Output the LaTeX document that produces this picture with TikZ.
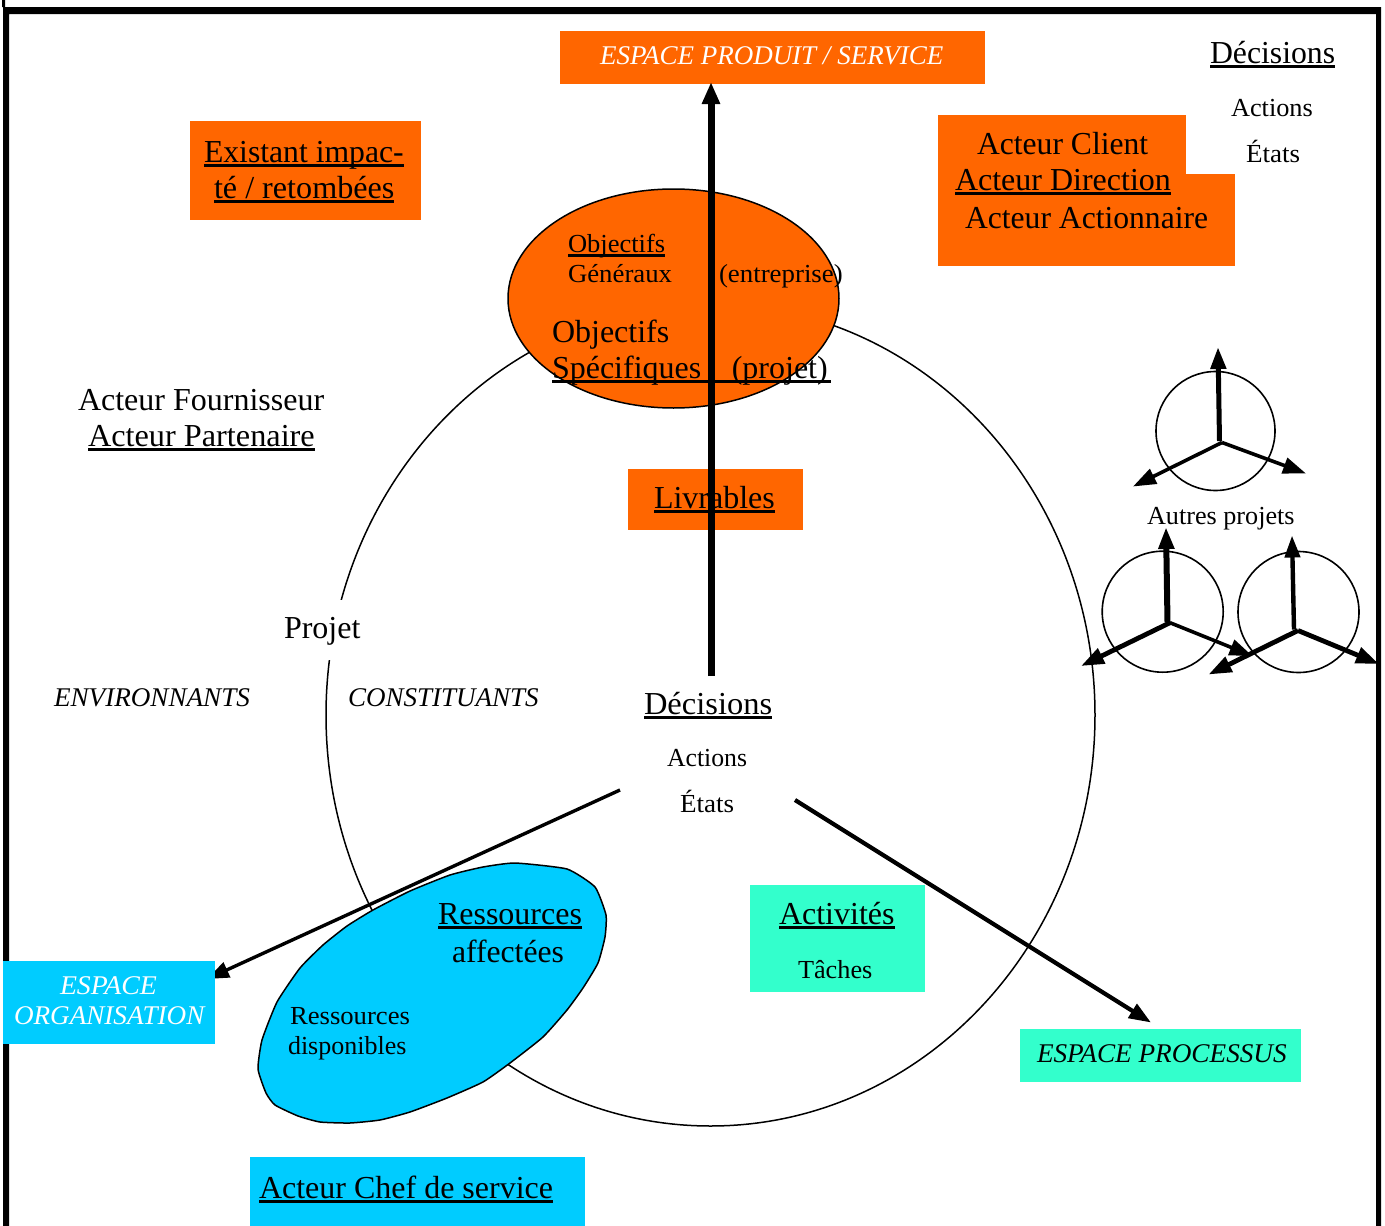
\documentclass[tikz,border=0pt]{standalone}
\usepackage{fontspec}
\setmainfont{Liberation Serif}
\usetikzlibrary{arrows.meta,calc}
\definecolor{orangeb}{HTML}{FF6600}
\definecolor{blueb}{HTML}{00CCFF}
\definecolor{tealb}{HTML}{33FFCC}
\newsavebox\ulbox
\newcommand\ulx[1]{\sbox\ulbox{#1}\rlap{\rule[-5pt]{\wd\ulbox}{3pt}}\usebox\ulbox}
\newcommand\sx[2]{\scalebox{#1}[1]{#2}}
\newcommand\bigf{\fontsize{32}{34}\selectfont}
\newcommand\smallf{\fontsize{26}{28}\selectfont}
\newcommand\espf{\fontsize{27}{29}\selectfont\itshape}
\tikzset{
 x=1pt,y=-1pt,
 every node/.style={inner sep=0pt,outer sep=0pt},
 tb/.style={anchor=base west,font=\bigf},
 ts/.style={anchor=base west,font=\smallf},
 te/.style={anchor=base west,font=\espf},
 tew/.style={te,text=white},
 fbox/.style={fill=#1,draw=none,anchor=north west},
 bigarrow/.style={line width=7pt,-{Triangle[length=22pt,width=17pt]}},
 medarrow/.style={line width=3.4pt,-{Triangle[length=22pt,width=16pt]}},
 medarrowb/.style={line width=4.2pt,-{Triangle[length=22pt,width=16pt]}},
 wheelv/.style={line width=5pt,-{Triangle[length=22pt,width=15pt]}},
 wheelo/.style={line width=3.6pt,-{Triangle[length=23pt,width=16pt]}},
 wheelt/.style={line width=4.8pt,-{Triangle[length=23pt,width=16pt]}},
 wheel/.style={circle,draw,line width=1.6pt,minimum size=119pt},
 outline/.style={draw=black,line width=1.5pt},
}
\begin{document}
\begin{tikzpicture}
\useasboundingbox (0,0) rectangle (1385,1226);
\fill[white] (0,0) rectangle (1385,1226);
% frame
\fill (3,1226) -- (3,7) -- (2,7) -- (2,0) -- (5,0) -- (5,7) -- (1381,7) -- (1381,1226) -- (1376,1226) -- (1376,14) -- (9,14) -- (9,1226) -- cycle;
% large circle
\draw[line width=1.5pt] (710.5,715) ellipse [x radius=384.5,y radius=411];
% boxes
\node[fbox=orangeb,minimum width=425pt,minimum height=53pt] (prod) at (560,31) {};
\node[fbox=orangeb,minimum width=231pt,minimum height=99pt] (exist) at (190,121) {};
\node[fbox=orangeb,minimum width=248pt,minimum height=70pt] (acta) at (938,115) {};
\node[fbox=orangeb,minimum width=297pt,minimum height=92pt] (actb) at (938,174) {};
\node[fbox=orangeb,minimum width=175pt,minimum height=61pt] (livr) at (628,469) {};
\node[fbox=tealb,minimum width=175pt,minimum height=107pt] (activ) at (750,885) {};
\node[fbox=tealb,minimum width=281pt,minimum height=53pt] (proc) at (1020,1029) {};
\node[fbox=blueb,minimum width=335pt,minimum height=69pt] (chef) at (250,1157) {};
\node[anchor=north west,minimum width=212pt,minimum height=83pt] (orga) at (3,961) {};
% white label holders
\node[fill=white,anchor=north west,minimum width=80pt,minimum height=60pt] (projet) at (282,600) {};
\node[fill=white,anchor=north west,minimum width=175pt,minimum height=150pt] (centre) at (620,676) {};
% ellipses
\draw[outline,fill=orangeb] (673.5,298.5) ellipse [x radius=165.5,y radius=109.5];
\draw[outline,fill=blueb] plot[smooth cycle,tension=0.3] coordinates {(515,863) (567,869) (595,887) (606,915) (605,937) (598,963) (583,988) (567,1010) (543,1037) (510,1063) (483,1082) (447,1098) (410,1112) (380,1120) (350,1123) (320,1122) (298,1116) (275,1105) (266,1093) (258,1069) (262,1040) (277,1002) (300,968) (323,945) (347,926) (373,910) (410,891) (450,875) (483,867)};
% main connectors
\draw[bigarrow] ([xshift=3.5pt]centre.north) -- ($(centre.north |- prod.south)+(3.5,-2)$);
\draw[medarrow] ($(centre.north west)+(0,114)$) -- ($(orga.north east)+(-8,18)$);
\fill[blueb] (orga.north west) rectangle (orga.south east);
\draw[medarrowb] ($(centre.north east)+(0,124)$) -- ($(proc.north)+(-9.5,-6.5)$);
% wheels
\node[wheel] (w1) at (1215.5,431) {};
\node[wheel,minimum size=121pt] (w2) at (1162.7,611.7) {};
\node[wheel,minimum size=121pt] (w3) at (1298.5,612) {};
\coordinate (h1v) at (1219.5,441);
\coordinate (h1) at (1222,442.5);
\coordinate (h1a) at (1218,347);
\coordinate (h1b) at (1306,473.5);
\coordinate (h1c) at (1133,486.5);
\coordinate (h2v) at (1167.5,622);
\coordinate (h2) at (1170,622.7);
\coordinate (h2a) at (1166,527);
\coordinate (h2b) at (1252.5,656);
\coordinate (h2c) at (1081,666);
\coordinate (h3v) at (1294,629.5);
\coordinate (h3) at (1298,630.5);
\coordinate (h3a) at (1292,535.5);
\coordinate (h3b) at (1379,664);
\coordinate (h3c) at (1208.5,674.5);
\draw[wheelv] (h1v) -- (h1a);
\draw[wheelo] (h1) -- (h1b);
\draw[wheelo] (h1) -- (h1c);
\draw[wheelv,line width=6pt] (h2v) -- (h2a);
\draw[wheelo] (h2) -- (h2b);
\draw[wheelt] (h2) -- (h2c);
\draw[wheelv,line width=4.4pt] (h3v) -- (h3a);
\draw[wheelt] (h3) -- (h3b);
\draw[wheelt] (h3) -- (h3c);
% texts
\node[tew] (t1) at (600,64) {ESPACE PRODUIT / SERVICE};
\node[tb] (t2) at (1210,63) {\sx{.992}{\ulx{Décisions}}};
\node[ts] (t3) at (1231,116) {\sx{1.012}{Actions}};
\node[ts] (t4) at (1246,162) {\sx{1.04}{États}};
\node[tb] (t5) at (204,162) {\sx{.99}{\ulx{Existant impac-}}};
\node[tb] (t6) at (214,198) {\sx{1.005}{\ulx{té / retombées}}};
\node[tb] (t7) at (977,154) {\sx{.988}{Acteur Client}};
\node[tb] (t8) at (955,190) {\ulx{Acteur Direction}};
\node[tb] (t9) at (965,228) {\sx{.988}{Acteur Actionnaire}};
\node[ts] (t10) at (568,252) {\sx{1.02}{\ulx{Objectifs}}};
\node[ts] (t11) at (568,282) {\sx{1.03}{Généraux}};
\node[ts] (t12) at (719,282) {\sx{1.033}{(entreprise)}};
\node[tb] (t13) at (552,342) {Objectifs};
\node[tb] (t14) at (552,378) {\ulx{Spécifiques\hspace{30.5pt}(projet)\hspace{3pt}}};
\node[tb] (t15) at (78,410) {Acteur Fournisseur};
\node[tb] (t16) at (88,446) {\sx{1.009}{\ulx{Acteur Partenaire}}};
\node[tb] (t17) at (654,508) {\ulx{Livrables}};
\node[ts] (t18) at (1147,524) {\sx{1.007}{Autres projets}};
\node[tb] (t19) at (284,638) {Projet};
\node[te] (t20) at (54,706) {\sx{1.005}{ENVIRONNANTS}};
\node[te] (t21) at (348,706) {CONSTITUANTS};
\node[tb] (t22) at (644,714) {\sx{1.016}{\ulx{Décisions}}};
\node[ts] (t23) at (667,766) {\sx{.99}{Actions}};
\node[ts] (t24) at (680,812) {\sx{1.04}{États}};
\node[tb] (t25) at (438,924) {\ulx{Ressources}};
\node[tb] (t26) at (452,962) {\sx{.99}{affectées}};
\node[tb] (t27) at (779,924) {\ulx{Activités}};
\node[ts] (t28) at (798,978) {\sx{1.01}{Tâches}};
\node[tew] (t29) at (60,994) {\sx{1.03}{ESPACE}};
\node[tew] (t30) at (14,1024) {\sx{1.005}{ORGANISATION}};
\node[ts] (t31) at (290,1024) {\sx{1.026}{Ressources}};
\node[ts] (t32) at (288,1054) {disponibles};
\node[te] (t33) at (1037,1062) {\sx{1.008}{ESPACE PROCESSUS}};
\node[tb] (t34) at (259,1198) {\ulx{Acteur Chef de service}};
\end{tikzpicture}
\end{document}
